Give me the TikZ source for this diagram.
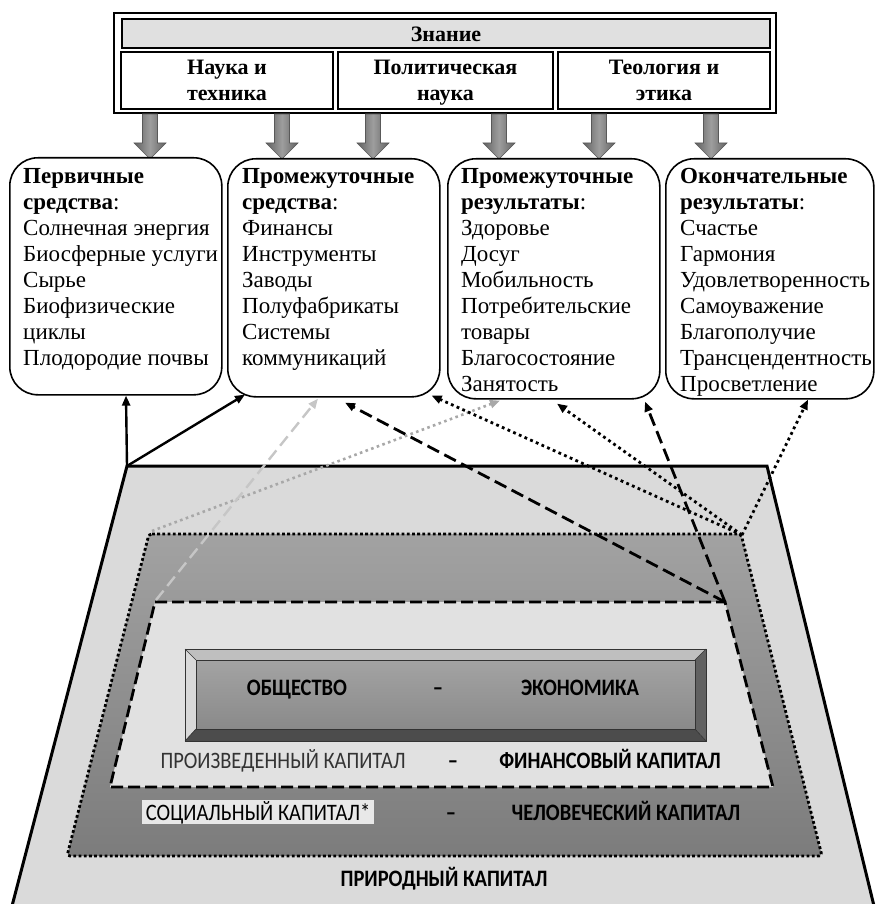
\documentclass[tikz,border=0pt]{standalone}
\usepackage{fontspec}
\usepackage{graphicx}
\setmainfont{Liberation Serif}
\newfontfamily\calfont{Carlito}
\usetikzlibrary{arrows.meta,calc}
\definecolor{trapgray}{HTML}{DADADA}
\definecolor{innergray}{HTML}{E1E1E1}
\definecolor{bartop}{HTML}{E0E0E0}
\definecolor{darkreg1}{HTML}{A2A2A2}
\definecolor{darkreg2}{HTML}{7C7C7C}
\definecolor{lgdash}{HTML}{C6C6C6}
\definecolor{lgdot}{HTML}{A8A8A8}
\newcommand\tallcap[1]{\scalebox{1}[1.15]{#1}}
\tikzset{
  cell/.style={draw=black,line width=2pt,fill=white,inner sep=0pt,anchor=north west},
  celltext/.style={inner sep=0pt,align=center,font=\bfseries\fontsize{22}{26}\selectfont},
  rbox/.style={draw=black,line width=1.6pt,fill=white,rounded corners=28pt,inner sep=0pt,anchor=north west},
  lst/.style={align=left,inner sep=0pt,anchor=north west,font=\fontsize{23}{26}\selectfont},
  blockarrow/.style={draw=black!65,line width=0.6pt,left color=black!62,right color=black!62,middle color=black!38},
  tip/.style={-{Triangle[length=10pt,width=8pt]}},
  solidcon/.style={tip,draw=black,line width=2.4pt},
  dashcon/.style={tip,draw=black,line width=2.8pt,dash pattern=on 13pt off 6pt},
  dotcon/.style={tip,draw=black,line width=2.8pt,dash pattern=on 2.8pt off 3.4pt},
  lgdashcon/.style={-{Triangle[length=10pt,width=8pt]},draw=lgdash,line width=2.4pt,dash pattern=on 12pt off 6pt},
  lgdotcon/.style={-{Triangle[length=10pt,width=8pt]},draw=lgdot,line width=2.6pt,dash pattern=on 2.6pt off 3.4pt},
  captext/.style={inner sep=0pt,anchor=base,font=\calfont\fontsize{20.5}{24}\selectfont},
  capbold/.style={inner sep=0pt,anchor=base,font=\calfont\bfseries\fontsize{20.5}{24}\selectfont},
}
\begin{document}
\begin{tikzpicture}[x=1pt,y=-1pt]
\useasboundingbox (0,0) rectangle (875,904);

% ---------- top knowledge frame ----------
\draw[line width=2.2pt,fill=white] (114,13) rectangle (776,113);
\node[cell,fill=bartop,minimum width=648pt,minimum height=29pt] (zn) at (121,18) {};
\node[celltext] (znt) at ($(zn.center)+(0,1)$) {Знание};
\node[cell,minimum width=212pt,minimum height=57pt] (c1) at (120,51) {};
\node[cell,minimum width=215pt,minimum height=57pt] (c2) at (337,51) {};
\node[cell,minimum width=212pt,minimum height=57pt] (c3) at (557,51) {};
\node[celltext] (c1t) at ($(c1.center)+(0,2)$) {\strut Наука и\\\strut техника};
\node[celltext] (c2t) at ($(c2.center)+(0,2)$) {\strut Политическая\\\strut наука};
\node[celltext] (c3t) at ($(c3.center)+(0,2)$) {\strut Теология и\\\strut этика};

% ---------- block arrows ----------
\foreach \x in {150,282,373,499,599,711}{
  \path[blockarrow] ({\x-7.5},114) -- ({\x+7.5},114) -- ({\x+7.5},143) -- ({\x+16},143)
    -- (\x,159) -- ({\x-16},143) -- ({\x-7.5},143) -- cycle;
}

% ---------- rounded boxes ----------
\node[rbox,minimum width=212pt,minimum height=237pt] (b1) at (9,157) {};
\node[rbox,minimum width=212pt,minimum height=238pt] (b2) at (227,158) {};
\node[rbox,minimum width=212pt,minimum height=240pt] (b3) at (447,158) {};
\node[rbox,minimum width=208pt,minimum height=240pt] (b4) at (665,158) {};

\node[lst] (t1) at (23,168) {\textbf{Первичные}\\\textbf{средства}:\\Солнечная энергия\\Биосферные услуги\\Сырье\\Биофизические\\циклы\\Плодородие почвы};
\node[lst] (t2) at (242,168) {\textbf{Промежуточные}\\\textbf{средства}:\\Финансы\\Инструменты\\Заводы\\Полуфабрикаты\\Системы\\коммуникаций};
\node[lst] (t3) at (461,168) {\textbf{Промежуточные}\\\textbf{результаты}:\\Здоровье\\Досуг\\Мобильность\\Потребительские\\товары\\Благосостояние\\Занятость};
\node[lst] (t4) at (680,168) {\textbf{Окончательные}\\\textbf{результаты}:\\Счастье\\Гармония\\Удовлетворенность\\Самоуважение\\Благополучие\\Трансцендентность\\Просветление};

% ---------- capital pyramid ----------
\draw[fill=trapgray,line width=3pt,line join=miter] (127,466) -- (767,466) -- (874,906) -- (12,906) -- cycle;
\draw[top color=darkreg1,bottom color=darkreg2,line width=2.8pt,dash pattern=on 2.8pt off 2.4pt,rounded corners=3pt]
  (149,534) -- (741,534) -- (822,856) -- (67,856) -- cycle;
\draw[fill=innergray,line width=2.8pt,dash pattern=on 12pt off 5pt]
  (155,602) -- (725,602) -- (773,787) -- (110,787) -- cycle;

% bevelled society-economy box
\fill[black!25] (185,649) -- (706,649) -- (695,660) -- (196,660) -- cycle;
\fill[black!15] (185,649) -- (196,660) -- (196,729) -- (185,741) -- cycle;
\fill[black!70] (185,741) -- (196,729) -- (695,729) -- (706,741) -- cycle;
\fill[black!62] (706,649) -- (695,660) -- (695,729) -- (706,741) -- cycle;
\shade[top color=black!36,bottom color=black!46] (196,660) rectangle (695,729);
\draw[black!80,line width=0.8pt] (185,649) rectangle (706,741);
\draw[black!80,line width=0.6pt] (196,660) rectangle (695,729);
\draw[black!80,line width=0.6pt] (185,649) -- (196,660) (706,649) -- (695,660) (185,741) -- (196,729) (706,741) -- (695,729);

\node[capbold] (soc) at (297,695) {\tallcap{ОБЩЕСТВО}};
\node[capbold] (d1) at (438,695) {\tallcap{–}};
\node[capbold] (eco) at (580,695) {\tallcap{ЭКОНОМИКА}};
\node[captext,text=black!80] (prod) at (283,768) {\tallcap{ПРОИЗВЕДЕННЫЙ КАПИТАЛ}};
\node[capbold] (d2) at (453,768) {\tallcap{–}};
\node[capbold] (fin) at (610,768) {\tallcap{ФИНАНСОВЫЙ КАПИТАЛ}};
\fill[black!9] (142,800) rectangle (374,824);
\node[captext] (socc) at (258,820) {\tallcap{СОЦИАЛЬНЫЙ КАПИТАЛ*}};
\node[capbold] (d3) at (451,820) {\tallcap{–}};
\node[capbold] (hum) at (626,820) {\tallcap{ЧЕЛОВЕЧЕСКИЙ КАПИТАЛ}};
\node[capbold] (nat) at (444,886) {\tallcap{ПРИРОДНЫЙ КАПИТАЛ}};

% ---------- connectors ----------
\coordinate (tl) at (127,466);
\coordinate (dl) at (152,531);
\coordinate (sl) at (156,600);
\coordinate (dr) at (742,535);
\coordinate (sr) at (725,602);

\draw[lgdotcon] (dl) -- ($(b3.south west)+(53,1)$);
\draw[lgdashcon] (sl) -- ($(b2.south west)+(91,1)$);
\draw[solidcon] (tl) -- ($(b1.south west)+(117,0)$);
\draw[solidcon] (tl) -- ($(b2.south west)+(18,-3)$);
\draw[dashcon] (sr) -- ($(b2.south west)+(118,5)$);
\draw[dotcon] (dr) -- ($(b2.south east)+(-9,-2)$);
\draw[dotcon] (dr) -- ($(b3.south west)+(110,4)$);
\draw[dashcon] (sr) -- ($(b3.south west)+(198,2)$);
\draw[dotcon] (dr) -- ($(b4.south west)+(143,0)$);
\end{tikzpicture}
\end{document}
